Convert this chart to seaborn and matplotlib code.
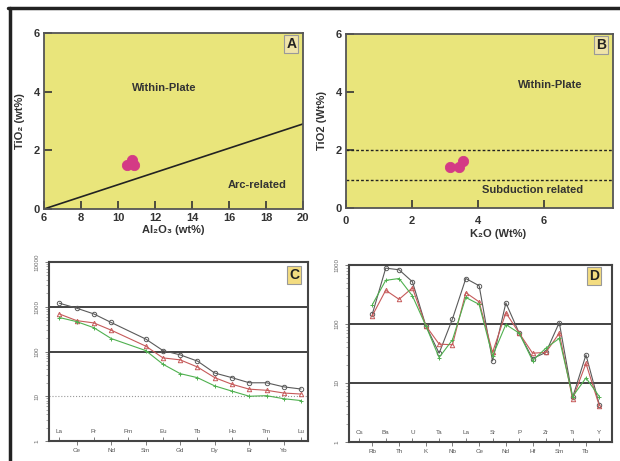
import numpy as np
import pandas as pd
import matplotlib
matplotlib.use('Agg')
import matplotlib.pyplot as plt
import seaborn as sns
from matplotlib.lines import Line2D

# ---- data ----
# A: TiO2 vs Al2O3
al2o3 = [10.5, 10.85, 10.75]
tio2_a = [1.5, 1.5, 1.68]
# B: TiO2 vs K2O
k2o = [3.15, 3.42, 3.55]
tio2_b = [1.42, 1.42, 1.62]

# C: REE pattern (Pm missing)
ree = ['La', 'Ce', 'Pr', 'Nd', 'Pm', 'Sm', 'Eu', 'Gd', 'Tb', 'Dy', 'Ho', 'Er', 'Tm', 'Yb', 'Lu']
ree_s1 = [1200, 930, 690, 445, np.nan, 190, 105, 84, 61, 33, 26, 20, 20, 16.2, 14.5]
ree_s2 = [690, 490, 435, 300, np.nan, 132, 72, 65, 45, 26, 18.5, 14.4, 13.6, 11.8, 11.2]
ree_s3 = [575, 465, 340, 195, np.nan, 105, 52, 32, 26, 17, 13, 10, 10.3, 8.8, 8.0]

# D: spider diagram (Cs missing)
spd = ['Cs', 'Rb', 'Ba', 'Th', 'U', 'K', 'Ta', 'Nb', 'La', 'Ce', 'Sr', 'Nd', 'P', 'Hf', 'Zr', 'Sm', 'Ti', 'Tb', 'Y']
spd_s1 = [np.nan, 148, 885, 830, 520, 94, 32, 122, 590, 445, 23.6, 228, 70, 26, 33, 106, 5.7, 30, 4.3]
spd_s2 = [np.nan, 139, 373, 262, 410, 94, 45.6, 44.5, 340, 237, 33, 155, 70, 32, 33, 70, 5.3, 21.5, 4.1]
spd_s3 = [np.nan, 213, 550, 590, 300, 94, 27, 54, 282, 215, 28.7, 98, 70, 24, 39, 57, 5.9, 12.2, 5.9]

sns.set_style('white')
plt.rcParams['font.family'] = ['Liberation Sans', 'DejaVu Sans']

fig = plt.figure(figsize=(6.2, 4.61), dpi=100)
fig.patch.set_facecolor('white')

YELLOW = '#e9e57b'
PINK = '#d43a85'
DARK = '#333333'

# frame lines
fig.add_artist(Line2D([8 / 620, 1], [1 - 8.5 / 461] * 2, color='#222222', lw=2.5))
fig.add_artist(Line2D([9.5 / 620] * 2, [0, 1 - 8.5 / 461], color='#222222', lw=2.5))


def style_top(ax):
    ax.set_facecolor(YELLOW)
    for s in ax.spines.values():
        s.set_color('#555555')
        s.set_linewidth(1.3)
    ax.tick_params(direction='in', length=6, width=1.2, color=DARK,
                   labelsize=8, labelcolor=DARK, pad=3,
                   bottom=True, left=True, top=False, right=False)
    for lab in ax.get_xticklabels() + ax.get_yticklabels():
        lab.set_fontweight('bold')


def panel_label(ax, txt, x, y, fc):
    ax.text(x, y, txt, transform=ax.transAxes, ha='center', va='center',
            fontsize=10, fontweight='bold', color='#222222',
            bbox=dict(boxstyle='square,pad=0.15', fc=fc, ec='#999999', lw=0.8))


# ---- A ----
axA = fig.add_axes([44 / 620, 1 - 209 / 461, 259 / 620, 176 / 461])
axA.plot([6, 20], [0, 2.9], color='#222222', lw=1.2)
sns.scatterplot(x=al2o3, y=tio2_a, ax=axA, color=PINK, s=55, edgecolor=PINK, zorder=3)
axA.set_xlim(6, 20)
axA.set_ylim(0, 6)
axA.set_xticks(range(6, 21, 2))
axA.set_yticks([0, 2, 4, 6])
style_top(axA)
axA.set_xlabel('Al\u2082O\u2083 (wt%)', fontsize=8, fontweight='bold', color=DARK, labelpad=1)
axA.set_ylabel('TiO\u2082 (wt%)', fontsize=8, fontweight='bold', color=DARK, labelpad=6)
axA.text(12.5, 4.12, 'Within-Plate', ha='center', va='center', fontsize=8, fontweight='bold', color=DARK)
axA.text(17.5, 0.82, 'Arc-related', ha='center', va='center', fontsize=8, fontweight='bold', color=DARK)
panel_label(axA, 'A', 0.955, 0.937, '#efe4a8')

# ---- B ----
axB = fig.add_axes([346 / 620, 1 - 208 / 461, 267 / 620, 174 / 461])
axB.axhline(2, color='#222222', lw=1, ls=(0, (2, 1.5)))
axB.axhline(0.95, color='#222222', lw=1, ls=(0, (2, 1.5)))
sns.scatterplot(x=k2o, y=tio2_b, ax=axB, color=PINK, s=55, edgecolor=PINK, zorder=3)
axB.set_xlim(0, 8.1)
axB.set_ylim(0, 6)
axB.set_xticks([0, 2, 4, 6])
axB.set_yticks([0, 2, 4, 6])
style_top(axB)
axB.tick_params(axis='x', pad=6)
axB.set_xlabel('K\u2082O (Wt%)', fontsize=8, fontweight='bold', color=DARK, labelpad=1)
axB.xaxis.set_label_coords(0.57, -0.12)
axB.set_ylabel('TiO2 (Wt%)', fontsize=8, fontweight='bold', color=DARK, labelpad=6)
axB.text(6.2, 4.24, 'Within-Plate', ha='center', va='center', fontsize=8, fontweight='bold', color=DARK)
axB.text(5.65, 0.62, 'Subduction related', ha='center', va='center', fontsize=8, fontweight='bold', color=DARK)
panel_label(axB, 'B', 0.955, 0.937, '#efe4a8')


# ---- C & D ----
SER_COLORS = ['#5a5a5a', '#c65a5a', '#4fb04f']
SER_MARKERS = ['o', '^', '+']


def spider(ax, names, series, ylim, yticks):
    pos = np.arange(len(names))
    for vals, c, m in zip(series, SER_COLORS, SER_MARKERS):
        df = pd.DataFrame({'x': pos, 'y': vals}).dropna()
        kw = dict(markersize=3.2, markeredgewidth=0.7, markeredgecolor=c)
        if m != '+':
            kw['markerfacecolor'] = 'none'
        sns.lineplot(data=df, x='x', y='y', ax=ax, color=c, lw=0.8,
                     marker=m, sort=False, **kw)
    ax.set_yscale('log')
    ax.set_ylim(*ylim)
    ax.set_xlim(-0.6, len(names) - 0.6)
    ax.set_xlabel('')
    ax.set_ylabel('')
    for s in ax.spines.values():
        s.set_color('#444444')
        s.set_linewidth(1.5)
    ax.set_yticks(yticks)
    ax.set_yticklabels([str(int(t)) for t in yticks], rotation=90, va='center',
                       fontsize=4.5, color='#666666')
    ax.tick_params(axis='y', which='major', direction='out', length=3, width=0.6,
                   color='#666666', left=True, pad=4)
    ax.tick_params(axis='y', which='minor', direction='out', length=2, width=0.5,
                   color='#888888', left=True)
    # alternating category labels
    ax.set_xticks(pos[::2], names[::2])
    ax.set_xticks(pos[1::2], names[1::2], minor=True)
    ax.tick_params(axis='x', which='major', direction='in', length=3, width=0.6,
                   color='#666666', labelsize=4.5, labelcolor='#555555', pad=-8.5, bottom=True)
    ax.tick_params(axis='x', which='minor', direction='out', length=3, width=0.6,
                   color='#666666', labelsize=4.5, labelcolor='#555555', pad=2, bottom=True)


axC = fig.add_axes([49 / 620, 1 - 441 / 461, 259 / 620, 179 / 461])
axC.axhline(1000, color='#222222', lw=1.2)
axC.axhline(100, color='#222222', lw=1.2)
axC.axhline(10, color='#999999', lw=0.8, ls=':')
spider(axC, ree, [ree_s1, ree_s2, ree_s3], (1, 10000), [1, 10, 100, 1000, 10000])
panel_label(axC, 'C', 0.946, 0.927, '#f3dc80')

axD = fig.add_axes([349 / 620, 1 - 442 / 461, 263 / 620, 177 / 461])
axD.axhline(100, color='#222222', lw=1.2)
axD.axhline(10, color='#222222', lw=1.2)
spider(axD, spd, [spd_s1, spd_s2, spd_s3], (1, 1000), [1, 10, 100, 1000])
axD.set_xlim(-0.75, 18.95)
panel_label(axD, 'D', 0.933, 0.938, '#f3dc80')

fig.savefig('out.png', dpi=100)
